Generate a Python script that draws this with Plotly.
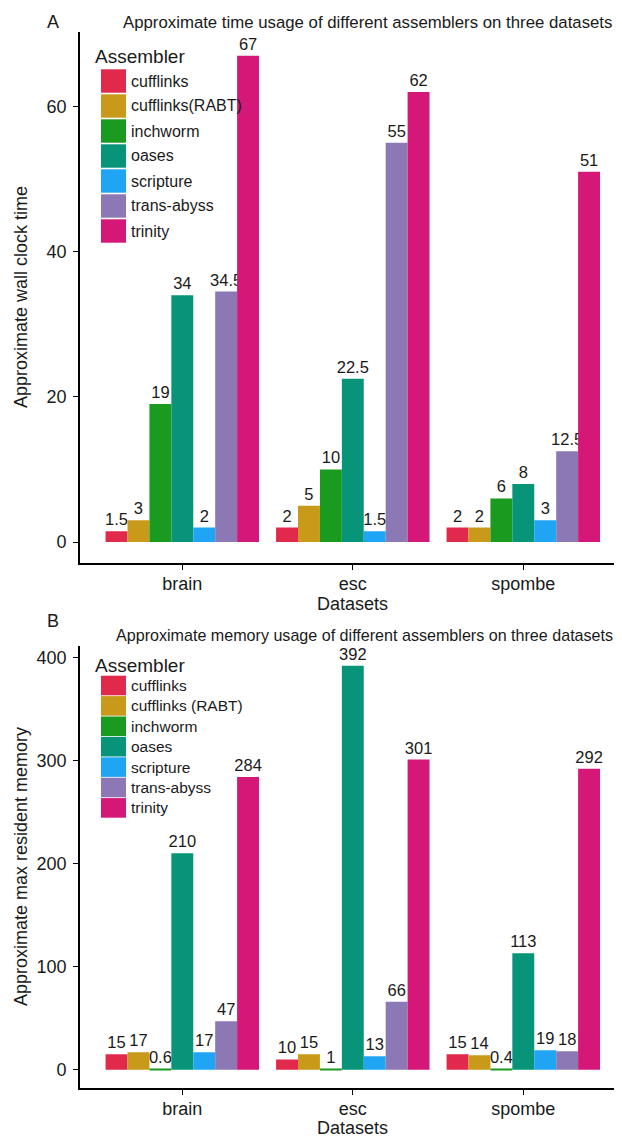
import plotly.graph_objects as go

# ---------------- data ----------------
datasets = ["brain", "esc", "spombe"]
assemblers_time = ["cufflinks", "cufflinks(RABT)", "inchworm", "oases", "scripture", "trans-abyss", "trinity"]
assemblers_mem = ["cufflinks", "cufflinks (RABT)", "inchworm", "oases", "scripture", "trans-abyss", "trinity"]
colors = ["#E0294B", "#C99A1A", "#1A9A1E", "#089478", "#20A5F4", "#8C78B4", "#D51778"]

time_cufflinks = [1.5, 2, 2]
time_rabt = [3, 5, 2]
time_inchworm = [19, 10, 6]
time_oases = [34, 22.5, 8]
time_scripture = [2, 1.5, 3]
time_transabyss = [34.5, 55, 12.5]
time_trinity = [67, 62, 51]

mem_cufflinks = [15, 10, 15]
mem_rabt = [17, 15, 14]
mem_inchworm = [0.6, 1, 0.4]
mem_oases = [210, 392, 113]
mem_scripture = [17, 13, 19]
mem_transabyss = [47, 66, 18]
mem_trinity = [284, 301, 292]

time_ticks = [0, 20, 40, 60]
mem_ticks = [0, 100, 200, 300, 400]

time_series = [time_cufflinks, time_rabt, time_inchworm, time_oases,
               time_scripture, time_transabyss, time_trinity]
mem_series = [mem_cufflinks, mem_rabt, mem_inchworm, mem_oases,
              mem_scripture, mem_transabyss, mem_trinity]

# ---------------- layout helpers ----------------
W, H = 622, 1136
OFF = 8            # page offset of the plot inside the browser window
ML = 72
PW = W - ML
FONT = "Liberation Sans, Arial, sans-serif"
TXT = "#1a1a1a"


def px(xs):
    return (xs - OFF - ML) / PW


def py(ys):
    return 1 - (ys - OFF) / H


fig = go.Figure()

for name, vals, c in zip(assemblers_time, time_series, colors):
    fig.add_trace(go.Bar(
        x=datasets, y=vals, name=name, marker=dict(color=c, line=dict(width=0)),
        text=[f"{v:g}" for v in vals], textposition="outside",
        textfont=dict(size=16.5, color=TXT, family=FONT),
        constraintext="none", cliponaxis=False, showlegend=False,
        xaxis="x", yaxis="y"))

for name, vals, c in zip(assemblers_mem, mem_series, colors):
    fig.add_trace(go.Bar(
        x=datasets, y=vals, name=name, marker=dict(color=c, line=dict(width=0)),
        text=[f"{v:g}" for v in vals], textposition="outside",
        textfont=dict(size=16.5, color=TXT, family=FONT),
        constraintext="none", cliponaxis=False, showlegend=False,
        xaxis="x2", yaxis="y2"))

axis_common = dict(showline=True, linecolor="black", linewidth=1.6, ticks="outside",
                   ticklen=5, tickwidth=1.3, tickcolor="black", showgrid=False,
                   zeroline=False, automargin=False,
                   tickfont=dict(size=18, color=TXT, family=FONT))

xr = [-0.6, -0.6 + PW / 170.5]

fig.update_layout(
    width=W, height=H,
    margin=dict(l=ML, r=0, t=0, b=0),
    paper_bgcolor="white", plot_bgcolor="white",
    barmode="group", bargap=0.1, bargroupgap=0,
    font=dict(family=FONT, color=TXT),
    xaxis=dict(domain=[0, 1], anchor="y", type="category", range=xr,
               ticklabelstandoff=-2, **axis_common),
    yaxis=dict(domain=[py(563.3), py(31.7)], anchor="x", range=[-2.93, 70.3],
               tickvals=time_ticks, ticklabelstandoff=3, **axis_common),
    xaxis2=dict(domain=[0, 1], anchor="y2", type="category", range=xr,
                ticklabelstandoff=-2, **axis_common),
    yaxis2=dict(domain=[py(1088.3), py(645.5)], anchor="x2", range=[-18, 411.6],
                tickvals=mem_ticks, ticklabelstandoff=3, **axis_common),
)

ann = []
shapes = []


def text(xs, ys, s, size, **kw):
    d = dict(x=px(xs), y=py(ys), xref="paper", yref="paper", text=s, showarrow=False,
             font=dict(size=size, color=TXT, family=FONT), xanchor="center", yanchor="middle")
    d.update(kw)
    ann.append(d)


# panel labels and titles
text(53, 22, "A", 18)
text(367, 22, "Approximate time usage of different assemblers on three datasets", 16.8)
text(53, 621, "B", 18)
text(364, 635, "Approximate memory usage of different assemblers on three datasets", 16.1)

# axis titles
text(21, 297, "Approximate wall clock time", 18, textangle=-90)
text(21, 867, "Approximate max resident memory", 18, textangle=-90)
text(352, 604, "Datasets", 18)
text(352, 1128, "Datasets", 18)

# legends (manual, ggplot-style keys)
text(93, 57, "Assembler", 19, xanchor="left")
for i, (name, c) in enumerate(zip(assemblers_time, colors)):
    cy = 81 + 25 * i
    shapes.append(dict(type="rect", xref="paper", yref="paper",
                       x0=px(101), x1=px(126), y0=py(cy - 11.7), y1=py(cy + 11.7),
                       fillcolor=c, line=dict(width=0)))
    text(129, cy, name, 16, xanchor="left")

text(93, 665, "Assembler", 19, xanchor="left")
for i, (name, c) in enumerate(zip(assemblers_mem, colors)):
    cy = 685.5 + 20.4 * i
    shapes.append(dict(type="rect", xref="paper", yref="paper",
                       x0=px(101), x1=px(126), y0=py(cy - 9.8), y1=py(cy + 9.8),
                       fillcolor=c, line=dict(width=0)))
    text(129, cy, name, 15.5, xanchor="left")

fig.update_layout(annotations=ann, shapes=shapes)
fig.write_html("out.html")
